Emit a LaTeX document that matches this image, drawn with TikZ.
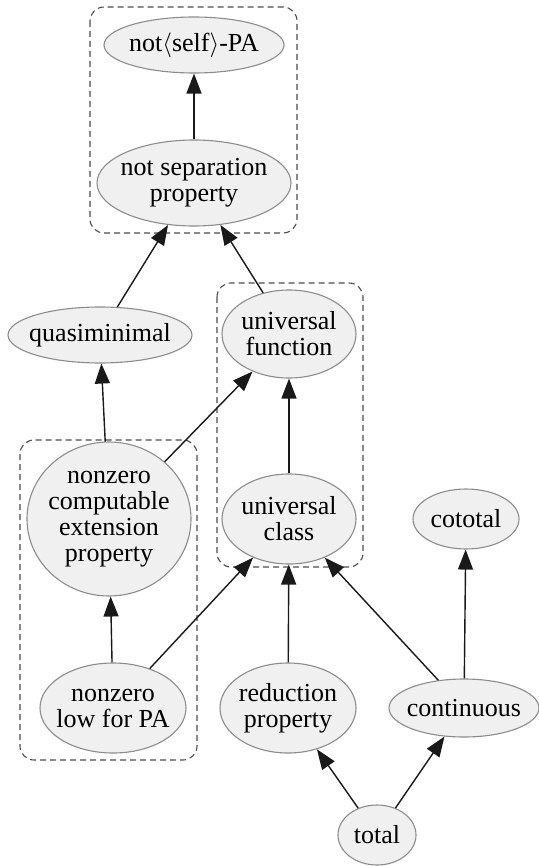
\documentclass[tikz,border=0pt]{standalone}
\usepackage{fontspec}
\setmainfont{Liberation Serif}
\newfontfamily\nodefont{Liberation Serif}
\usetikzlibrary{shapes.geometric,arrows.meta}
\begin{document}
\begin{tikzpicture}[x=1pt,y=-1pt,
  gnode/.style={ellipse, draw=black!45, line width=1.1pt, fill=black!6, inner sep=-40pt, align=center, font=\nodefont\fontsize{26}{26}\selectfont, text=black},
  cluster/.style={draw=black!70, line width=1.1pt, rounded corners=14pt, dash pattern=on 6pt off 4pt},
  edge/.style={-{Triangle[length=20pt,width=15pt]}, line width=1.4pt, draw=black!90}
]
\useasboundingbox (0,0) rectangle (538,866);
\draw[cluster] (90,7) rectangle (297,233);
\draw[cluster] (217,283) rectangle (363,567);
\draw[cluster] (20,440) rectangle (197,760);

\node[gnode, minimum width=180pt, minimum height=56pt] (nsPA) at (194,45) {not$\langle$self$\rangle$-PA};
\node[gnode, minimum width=194pt, minimum height=86pt] (nsp) at (194,183) {not separation\\property};
\node[gnode, minimum width=184pt, minimum height=56pt] (qm) at (100,335) {quasiminimal};
\node[gnode, minimum width=134pt, minimum height=88pt] (uf) at (289,334) {universal\\function};
\node[gnode, minimum width=164pt, minimum height=154pt] (ncep) at (109,519) {nonzero\\computable\\extension\\property};
\node[gnode, minimum width=134pt, minimum height=90pt] (uc) at (289,519) {universal\\class};
\node[gnode, minimum width=106pt, minimum height=60pt] (cot) at (466,519) {cototal};
\node[gnode, minimum width=146pt, minimum height=90pt] (nlf) at (113,708) {nonzero\\low for PA};
\node[gnode, minimum width=136pt, minimum height=90pt] (rp) at (288,708) {reduction\\property};
\node[gnode, minimum width=150pt, minimum height=58pt] (cont) at (464,708) {continuous};
\node[gnode, minimum width=78pt, minimum height=60pt] (tot) at (377,835) {total};

\draw[edge] (nsp) -- (nsPA);
\draw[edge] (qm) -- (nsp);
\draw[edge] (uf) -- (nsp);
\draw[edge] (ncep) -- (qm);
\draw[edge] (ncep) -- (uf);
\draw[edge] (uc) -- (uf);
\draw[edge] (nlf) -- (ncep);
\draw[edge] (nlf) -- (uc);
\draw[edge] (rp) -- (uc);
\draw[edge] (cont) -- (uc);
\draw[edge] (cont) -- (cot);
\draw[edge] (tot) -- (rp);
\draw[edge] (tot) -- (cont);
\end{tikzpicture}
\end{document}
